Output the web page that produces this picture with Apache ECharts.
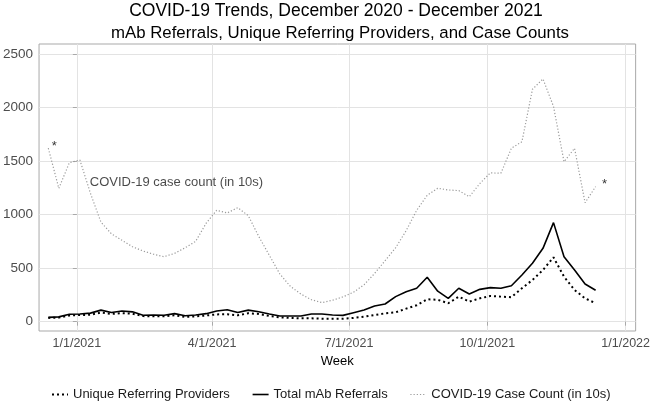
<!DOCTYPE html>
<html>
<head>
<meta charset="utf-8">
<script src="https://cdn.jsdelivr.net/npm/echarts@6/dist/echarts.min.js"></script>
<style>
html,body{margin:0;padding:0;background:#fff;}
#chart{width:653px;height:402px;}
</style>
</head>
<body>
<div id="chart"></div>
<script>
// ---- data ----
const weeks = ['2020-12-13','2020-12-20','2020-12-27','2021-01-03','2021-01-10','2021-01-17','2021-01-24','2021-01-31',
'2021-02-07','2021-02-14','2021-02-21','2021-02-28','2021-03-07','2021-03-14','2021-03-21','2021-03-28',
'2021-04-04','2021-04-11','2021-04-18','2021-04-25','2021-05-02','2021-05-09','2021-05-16','2021-05-23','2021-05-30',
'2021-06-06','2021-06-13','2021-06-20','2021-06-27','2021-07-04','2021-07-11','2021-07-18','2021-07-25',
'2021-08-01','2021-08-08','2021-08-15','2021-08-22','2021-08-29','2021-09-05','2021-09-12','2021-09-19','2021-09-26',
'2021-10-03','2021-10-10','2021-10-17','2021-10-24','2021-10-31','2021-11-07','2021-11-14','2021-11-21','2021-11-28',
'2021-12-05','2021-12-12'];

const uniqueProviders = [35,38,58,62,65,85,72,80,75,52,50,50,60,45,50,58,68,70,60,78,72,53,41,35,31,31,28,28,28,35,
47,62,78,87,122,153,209,205,172,234,187,218,240,234,228,312,389,483,601,420,296,218,172];

const totalReferrals = [40,45,70,72,80,108,85,100,92,60,62,60,75,55,62,75,100,112,85,108,93,72,53,53,53,72,72,62,59,84,
109,147,165,234,280,312,415,285,218,312,259,302,318,312,336,436,545,685,925,607,483,352,294];

const caseCount10s = [1620,1245,1485,1510,1200,930,820,760,700,660,630,607,638,690,750,920,1040,1015,1065,990,795,620,445,
330,258,205,178,200,232,275,345,450,570,690,850,1040,1180,1246,1230,1224,1167,1290,1390,1386,1620,1680,2170,2267,2010,
1494,1619,1111,1261];

const xTickDates = ['2021-01-01','2021-04-01','2021-07-01','2021-10-01','2022-01-01'];
const xTickLabels = ['1/1/2021','4/1/2021','7/1/2021','10/1/2021','1/1/2022'];
const yTicks = [0,500,1000,1500,2000,2500];

const seriesNames = ['Unique Referring Providers','Total mAb Referrals','COVID-19 Case Count (in 10s)'];

// annotations: [date, value, text, align]
const annotations = [
  ['2021-01-09T14:00:00Z', 1300, 'COVID-19 case count (in 10s)', 'left'],
  ['2020-12-17T00:00:00Z', 1640, '*', 'center'],
  ['2021-12-18T00:00:00Z', 1285, '*', 'center']
];

// ---- helpers ----
const base = Date.UTC(2021,0,1);
function dayOf(s){ const d = s.length>10 ? Date.parse(s) : Date.parse(s+'T00:00:00Z'); return (d-base)/86400000; }
const xDays = weeks.map(dayOf);
const tickDays = xTickDates.map(dayOf);
const xMin = dayOf('2020-12-06T20:00:00Z');
const xMax = dayOf('2022-01-07T15:00:00Z');

const FONT = "'Liberation Sans', Arial, sans-serif";

const chart = echarts.init(document.getElementById('chart'), null, {renderer:'canvas'});

const option = {
  animation:false,
  backgroundColor:'#ffffff',
  textStyle:{fontFamily:FONT},
  graphic:[
    {type:'text', x:336, y:11, style:{text:'COVID-19 Trends, December 2020 - December 2021', fontFamily:FONT, fontSize:17.5, fill:'#000', align:'center', verticalAlign:'middle'}},
    {type:'text', x:340, y:33, style:{text:'mAb Referrals, Unique Referring Providers, and Case Counts', fontFamily:FONT, fontSize:16.8, fill:'#000', align:'center', verticalAlign:'middle'}}
  ],
  grid:{left:39, right:15, top:44, bottom:71, show:true, borderColor:'#a9a9a9', borderWidth:1, backgroundColor:'#fff'},
  xAxis:{
    type:'value', min:xMin, max:xMax,
    name:'Week', nameLocation:'middle', nameGap:16,
    nameTextStyle:{color:'#000', fontSize:13, fontFamily:FONT},
    axisLine:{show:false},
    axisTick:{show:true, length:4, lineStyle:{color:'#a9a9a9'}, customValues:tickDays},
    axisLabel:{color:'#4d4d4d', fontSize:12.5, fontFamily:FONT, margin:6, customValues:tickDays,
      formatter:function(v){ const i = tickDays.findIndex(t=>Math.abs(t-v)<0.01); return i>=0?xTickLabels[i]:''; }},
    splitLine:{show:true, lineStyle:{color:'#e3e3e3', width:1}}
  },
  yAxis:{
    type:'value', min:-87, max:2593,
    axisLine:{show:false},
    axisTick:{show:true, length:4, lineStyle:{color:'#a9a9a9'}, customValues:yTicks},
    axisLabel:{color:'#4d4d4d', fontSize:13.5, fontFamily:FONT, margin:6, customValues:yTicks,
      formatter:function(v){ return String(v); }},
    splitLine:{show:true, lineStyle:{color:'#e3e3e3', width:1}}
  },
  legend:{
    data:seriesNames, left:51, top:388, itemWidth:16, itemHeight:14, itemGap:22, padding:0,
    itemStyle:{opacity:0},
    lineStyle:{width:'inherit', type:'inherit'},
    textStyle:{fontSize:13, color:'#1a1a1a', fontFamily:FONT}
  },
  series:[
    {name:seriesNames[0], type:'line', symbol:'none', data:xDays.map((d,i)=>[d,uniqueProviders[i]]),
      lineStyle:{color:'#000', width:2, type:[2,3]}, itemStyle:{color:'#000'}, z:3},
    {name:seriesNames[1], type:'line', symbol:'none', data:xDays.map((d,i)=>[d,totalReferrals[i]]),
      lineStyle:{color:'#000', width:1.6, type:'solid'}, itemStyle:{color:'#000'}, z:4},
    {name:seriesNames[2], type:'line', symbol:'none', data:xDays.map((d,i)=>[d,caseCount10s[i]]),
      lineStyle:{color:'#9a9a9a', width:1.2, type:[1.2,2]}, itemStyle:{color:'#9a9a9a'}, z:2},
    {name:'annot', type:'scatter', symbolSize:0.01, silent:true, z:5,
      data:annotations.map(a=>({value:[dayOf(a[0]), a[1]], label:{show:true, formatter:a[2], position:'inside', align:a[3],
        color:a[2]==='*'?'#000':'#1a1a1a', fontSize:13, fontFamily:FONT}})),
      itemStyle:{color:'transparent'}}
  ]
};
chart.setOption(option);
</script>
</body>
</html>
